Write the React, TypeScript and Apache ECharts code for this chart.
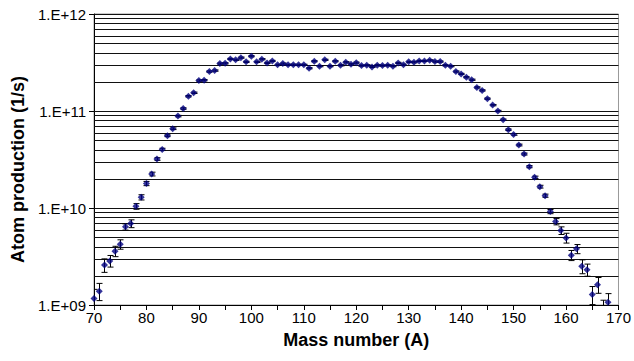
import React, { useEffect, useRef } from "react";
import * as echarts from "echarts";

const FONT = "'Liberation Sans', Arial, sans-serif";

const massNumbers = [
  70, 71, 72, 73, 74, 75, 76, 77, 78, 79,
  80, 81, 82, 83, 84, 85, 86, 87, 88, 89,
  90, 91, 92, 93, 94, 95, 96, 97, 98, 99,
  100, 101, 102, 103, 104, 105, 106, 107, 108, 109,
  110, 111, 112, 113, 114, 115, 116, 117, 118, 119,
  120, 121, 122, 123, 124, 125, 126, 127, 128, 129,
  130, 131, 132, 133, 134, 135, 136, 137, 138, 139,
  140, 141, 142, 143, 144, 145, 146, 147, 148, 149,
  150, 151, 152, 153, 154, 155, 156, 157, 158, 159,
  160, 161, 162, 163, 164, 165, 166, 167, 168,
];

const atomProduction = [
  1.17e9, 1.39e9, 2.58e9, 2.85e9, 3.59e9, 4.23e9, 6.39e9, 6.91e9, 1.04e10, 1.29e10,
  1.79e10, 2.24e10, 3.2e10, 4.02e10, 5.56e10, 6.56e10, 8.86e10, 1.06e11, 1.42e11, 1.54e11,
  2.06e11, 2.08e11, 2.55e11, 2.61e11, 3.08e11, 3.1e11, 3.44e11, 3.37e11, 3.55e11, 3.21e11,
  3.67e11, 3.21e11, 3.42e11, 3.13e11, 3.28e11, 2.99e11, 3.08e11, 2.99e11, 3.0e11, 2.99e11,
  2.99e11, 2.76e11, 3.26e11, 2.9e11, 3.37e11, 2.9e11, 3.26e11, 2.96e11, 3.18e11, 3.04e11,
  3.15e11, 2.94e11, 2.96e11, 2.85e11, 2.96e11, 2.94e11, 2.96e11, 2.9e11, 3.13e11, 3.0e11,
  3.21e11, 3.18e11, 3.28e11, 3.28e11, 3.33e11, 3.23e11, 3.23e11, 2.96e11, 2.9e11, 2.55e11,
  2.41e11, 2.23e11, 2.1e11, 1.75e11, 1.63e11, 1.34e11, 1.15e11, 1.0e11, 8.12e10, 6.41e10,
  5.73e10, 4.46e10, 3.6e10, 2.67e10, 2.07e10, 1.66e10, 1.34e10, 9.19e9, 7.24e9, 5.86e9,
  4.92e9, 3.26e9, 3.79e9, 2.51e9, 2.31e9, 1.28e9, 1.62e9, 0.85e9, 1.07e9,
];

const errors = [
  0.28e9, 0.28e9, 0.41e9, 0.39e9, 0.44e9, 0.47e9, 0.47e9, 0.64e9, 0.7e9, 0.8e9,
  0.9e9, 1.0e9, 1.0e9, 1.1e9, 1.2e9, 1.3e9, 1.6e9, 1.9e9, 2.4e9, 2.6e9,
  3.3e9, 3.3e9, 3.9e9, 4.0e9, 4.5e9, 4.5e9, 4.9e9, 4.8e9, 5.0e9, 4.6e9,
  5.1e9, 4.5e9, 4.8e9, 4.4e9, 4.6e9, 4.2e9, 4.3e9, 4.2e9, 4.2e9, 4.2e9,
  4.2e9, 3.9e9, 4.5e9, 4.1e9, 4.7e9, 4.1e9, 4.5e9, 4.1e9, 4.4e9, 4.2e9,
  4.4e9, 4.1e9, 4.1e9, 4.0e9, 4.1e9, 4.1e9, 4.1e9, 4.0e9, 4.3e9, 4.2e9,
  4.4e9, 4.4e9, 4.5e9, 4.5e9, 4.6e9, 4.5e9, 4.5e9, 4.1e9, 4.0e9, 3.6e9,
  3.4e9, 3.2e9, 3.0e9, 2.6e9, 2.4e9, 2.1e9, 1.8e9, 1.6e9, 1.4e9, 1.2e9,
  1.1e9, 0.95e9, 0.85e9, 0.7e9, 0.6e9, 0.55e9, 0.5e9, 0.45e9, 0.54e9, 0.53e9,
  0.57e9, 0.39e9, 0.41e9, 0.41e9, 0.33e9, 0.27e9, 0.3e9, 0.27e9, 0.24e9,
];

const gridValues = [
  2e9, 3e9, 4e9, 5e9, 6e9, 7e9, 8e9, 9e9,
  1e10, 2e10, 3e10, 4e10, 5e10, 6e10, 7e10, 8e10, 9e10,
  1e11, 2e11, 3e11, 4e11, 5e11, 6e11, 7e11, 8e11, 9e11,
  1e12,
];

const X_MIN = 70;
const X_MAX = 170;
const Y_MIN = 1e9;
const Y_MAX = 1e12;

export default function App() {
  const ref = useRef<HTMLDivElement>(null);

  useEffect(() => {
    document.body.style.margin = "0";
    const chart = echarts.init(ref.current!, null, { renderer: "svg" });
    const points = massNumbers.map((m, i) => [m, atomProduction[i], errors[i]]);

    chart.setOption({
      animation: false,
      backgroundColor: "#fff",
      grid: {
        left: 94,
        right: 13,
        top: 14,
        bottom: 56,
        show: true,
        borderColor: "#999",
        borderWidth: 1,
        backgroundColor: "transparent",
      },
      xAxis: {
        type: "value",
        min: X_MIN,
        max: X_MAX,
        interval: 10,
        name: "Mass number (A)",
        nameLocation: "middle",
        nameGap: 26,
        nameTextStyle: { fontFamily: FONT, fontSize: 18, fontWeight: "bold", color: "#000" },
        axisLine: { show: true, onZero: false, lineStyle: { color: "#000", width: 1 } },
        axisTick: { show: true, length: 5, lineStyle: { color: "#000" } },
        minorTick: { show: true, splitNumber: 2, length: 5, lineStyle: { color: "#000" } },
        axisLabel: { fontFamily: FONT, fontSize: 15, color: "#000", margin: 5 },
        splitLine: { show: false },
      },
      yAxis: {
        type: "log",
        logBase: 10,
        min: Y_MIN,
        max: Y_MAX,
        name: "Atom production (1/s)",
        nameLocation: "middle",
        nameGap: 67,
        nameRotate: 90,
        nameTextStyle: {
          fontFamily: FONT,
          fontSize: 18,
          fontWeight: "bold",
          color: "#000",
          padding: [0, 20, 0, 0],
        },
        axisLine: { show: true, lineStyle: { color: "#000", width: 1 } },
        axisTick: { show: true, length: 5, lineStyle: { color: "#000" } },
        axisLabel: {
          fontFamily: FONT,
          fontSize: 15,
          color: "#000",
          margin: 8,
          formatter: (v: number) => {
            const e = Math.round(Math.log10(v));
            return "1.E+" + (e < 10 ? "0" : "") + e;
          },
        },
        splitLine: { show: false },
      },
      series: [
        {
          type: "custom",
          name: "grid",
          z: 1,
          silent: true,
          clip: true,
          data: gridValues.map((v) => [X_MIN, v]),
          encode: { x: 0, y: 1 },
          renderItem: (_p: any, api: any) => {
            const v = api.value(1);
            const a = api.coord([X_MIN, v]);
            const b = api.coord([X_MAX, v]);
            const y = Math.round(a[1]) + 0.5;
            return {
              type: "line",
              shape: { x1: a[0], y1: y, x2: b[0], y2: y },
              style: { stroke: "#111", lineWidth: 1 },
            };
          },
        },
        {
          type: "custom",
          name: "errors",
          z: 2,
          silent: true,
          clip: true,
          dimensions: ["x", "y", "err"],
          data: points,
          encode: { x: 0, y: 1 },
          renderItem: (_p: any, api: any) => {
            const x = api.value(0);
            const v = api.value(1);
            const e = api.value(2);
            const top = api.coord([x, v + e]);
            const bot = api.coord([x, v - e]);
            const cx = Math.round(top[0]) + 0.5;
            const hw = 3;
            const st = { stroke: "#000", lineWidth: 1 };
            return {
              type: "group",
              children: [
                { type: "line", shape: { x1: cx, y1: top[1], x2: cx, y2: bot[1] }, style: st },
                { type: "line", shape: { x1: cx - hw, y1: top[1], x2: cx + hw, y2: top[1] }, style: st },
                { type: "line", shape: { x1: cx - hw, y1: bot[1], x2: cx + hw, y2: bot[1] }, style: st },
              ],
            };
          },
        },
        {
          type: "scatter",
          name: "Atom production",
          z: 3,
          clip: true,
          symbol: "diamond",
          symbolSize: 7,
          itemStyle: { color: "#000080" },
          data: points.map((p) => [p[0], p[1]]),
        },
      ],
    });

    return () => chart.dispose();
  }, []);

  return <div ref={ref} style={{ width: 634, height: 361 }} />;
}
